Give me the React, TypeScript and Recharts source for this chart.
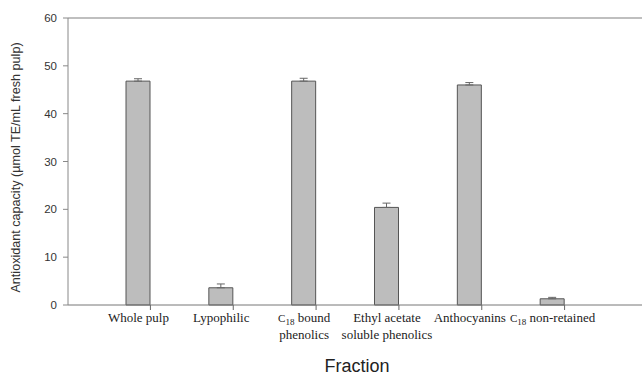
import { BarChart, Bar, XAxis, YAxis, ErrorBar, ReferenceLine, Label } from "recharts";

const categories = [
  "Whole pulp",
  "Lypophilic",
  "C18 bound phenolics",
  "Ethyl acetate soluble phenolics",
  "Anthocyanins",
  "C18 non-retained",
];
const labelLines = [
  ["Whole pulp"],
  ["Lypophilic"],
  ["C18 bound", "phenolics"],
  ["Ethyl acetate", "soluble phenolics"],
  ["Anthocyanins"],
  ["C18 non-retained"],
];
const capacity = [46.8, 3.6, 46.8, 20.4, 46.0, 1.3];
const sem = [0.5, 0.8, 0.6, 0.9, 0.5, 0.3];
const yTicks = [0, 10, 20, 30, 40, 50, 60];

const data = categories.map((name, i) => ({
  name,
  value: capacity[i],
  err: [0, sem[i]],
}));

const BAR_W = 24;

function TickLine({ text, y }: { text: string; y: number }) {
  if (text.startsWith("C18")) {
    return (
      <text y={y} textAnchor="middle" x={0}>
        <tspan fontSize={11}>C</tspan>
        <tspan fontSize={9} dy={3}>18</tspan>
        <tspan dy={-3}>{text.slice(3)}</tspan>
      </text>
    );
  }
  return (
    <text x={0} y={y} textAnchor="middle">
      {text}
    </text>
  );
}

function CategoryTick(props: any) {
  const { x, y, index } = props;
  const lines = labelLines[index] || [];
  return (
    <g transform={`translate(${x},${y})`}>
      <line x1={BAR_W / 2} x2={BAR_W / 2} y1={0} y2={5} stroke="#666" />
      <g fontFamily="'Liberation Serif', 'Times New Roman', serif" fontSize={13} fill="#222">
        {lines.map((t, i) => (
          <TickLine key={i} text={t} y={17 + i * 17} />
        ))}
      </g>
    </g>
  );
}

export default function App() {
  return (
    <div style={{ position: "absolute", left: 0, top: 0, background: "#fff" }}>
      <BarChart
        width={642}
        height={377}
        data={data}
        margin={{ top: 18, right: 0, left: 0, bottom: 22 }}
      >
        <ReferenceLine y={60} stroke="#aaa" strokeWidth={1.5} />
        <XAxis
          dataKey="name"
          height={50}
          padding={{ left: 29, right: 48 }}
          tickLine={false}
          tickSize={0}
          tickMargin={0}
          interval={0}
          stroke="#777"
          tick={<CategoryTick />}
        >
          <Label
            value="Fraction"
            position="bottom"
            offset={4}
            dx={2}
            style={{ fontFamily: "'Liberation Sans', Arial, sans-serif", fontSize: 18, fill: "#222" }}
          />
        </XAxis>
        <YAxis
          width={68}
          domain={[0, 60]}
          ticks={yTicks}
          interval={0}
          tickSize={5}
          tickMargin={6}
          stroke="#888"
          tick={{ fontFamily: "'Liberation Sans', Arial, sans-serif", fontSize: 11.5, fill: "#333" }}
        >
          <Label
            content={(p: any) => {
              const vb = p.viewBox;
              const cx = vb.x + 16;
              const cy = vb.y + vb.height / 2 + 6;
              return (
                <text
                  x={cx}
                  y={cy}
                  transform={`rotate(-90, ${cx}, ${cy})`}
                  textAnchor="middle"
                  dominantBaseline="central"
                  fontFamily="'Liberation Sans', Arial, sans-serif"
                  fontSize={12.6}
                  fill="#333"
                >
                  Antioxidant capacity (µmol TE/mL fresh pulp)
                </text>
              );
            }}
          />
        </YAxis>
        <Bar dataKey="value" barSize={BAR_W} fill="#bdbdbd" stroke="#555" strokeWidth={1} isAnimationActive={false}>
          <ErrorBar dataKey="err" width={4} stroke="#666" strokeWidth={1} isAnimationActive={false} />
        </Bar>
      </BarChart>
    </div>
  );
}
